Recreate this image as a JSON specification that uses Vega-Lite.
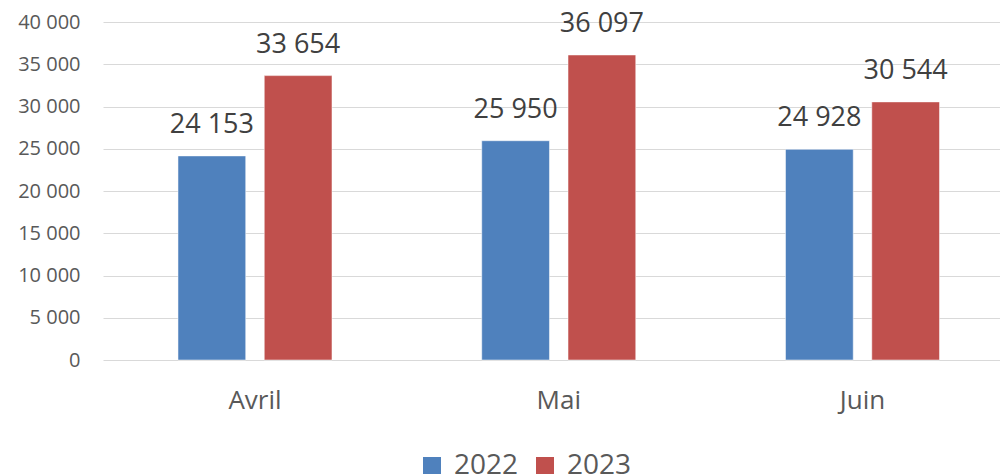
{
  "$schema": "https://vega.github.io/schema/vega-lite/v6.json",
  "width": 897,
  "height": 338,
  "autosize": {"type": "none"},
  "padding": {"left": 103, "top": 22, "right": 0, "bottom": 114},
  "background": "white",
  "config": {"view": {"stroke": null}, "font": "Open Sans"},
  "data": {"values": [
    {"mois": "Avril", "annee": "2022", "valeur": 24153, "label": "24 153"},
    {"mois": "Avril", "annee": "2023", "valeur": 33654, "label": "33 654"},
    {"mois": "Mai", "annee": "2022", "valeur": 25950, "label": "25 950"},
    {"mois": "Mai", "annee": "2023", "valeur": 36097, "label": "36 097"},
    {"mois": "Juin", "annee": "2022", "valeur": 24928, "label": "24 928"},
    {"mois": "Juin", "annee": "2023", "valeur": 30544, "label": "30 544"}
  ]},
  "encoding": {
    "x": {"field": "mois", "type": "nominal", "sort": ["Avril", "Mai", "Juin"],
      "scale": {"paddingInner": 0.493, "paddingOuter": 0.223, "align": 0.5535},
      "axis": {"title": null, "labelAngle": 0, "labelFontSize": 26, "labelColor": "#595959", "labelPadding": 27, "ticks": false, "domain": false, "labelFont": "Open Sans"}},
    "xOffset": {"field": "annee", "type": "nominal", "scale": {"paddingInner": 0.215, "paddingOuter": 0}},
    "y": {"field": "valeur", "type": "quantitative",
      "scale": {"domain": [0, 40000], "nice": false},
      "axis": {"title": null, "values": [0, 5000, 10000, 15000, 20000, 25000, 30000, 35000, 40000], "labelExpr": "replace(format(datum.value, ','), ',', ' ')", "labelFontSize": 20, "labelColor": "#595959", "labelPadding": 23, "ticks": false, "domain": false, "gridColor": "#d9d9d9", "gridWidth": 1.2, "labelFont": "Open Sans"}}
  },
  "layer": [
    {
      "mark": {"type": "bar", "stroke": "white", "strokeWidth": 0.5},
      "encoding": {
        "color": {"field": "annee", "type": "nominal",
          "scale": {"domain": ["2022", "2023"], "range": ["#4F81BD", "#C0504D"]},
          "legend": {"title": null, "orient": "none", "legendX": 315, "legendY": 430, "direction": "horizontal", "symbolType": "square", "symbolSize": 324, "symbolStrokeWidth": 0, "labelFontSize": 28, "labelColor": "#595959", "columnPadding": 12, "labelOffset": 8, "labelFont": "Open Sans"}}
      }
    },
    {
      "mark": {"type": "text", "dy": -23, "baseline": "alphabetic", "fontSize": 27, "color": "#404040", "font": "Open Sans"},
      "encoding": {"text": {"field": "label"}}
    }
  ]
}
